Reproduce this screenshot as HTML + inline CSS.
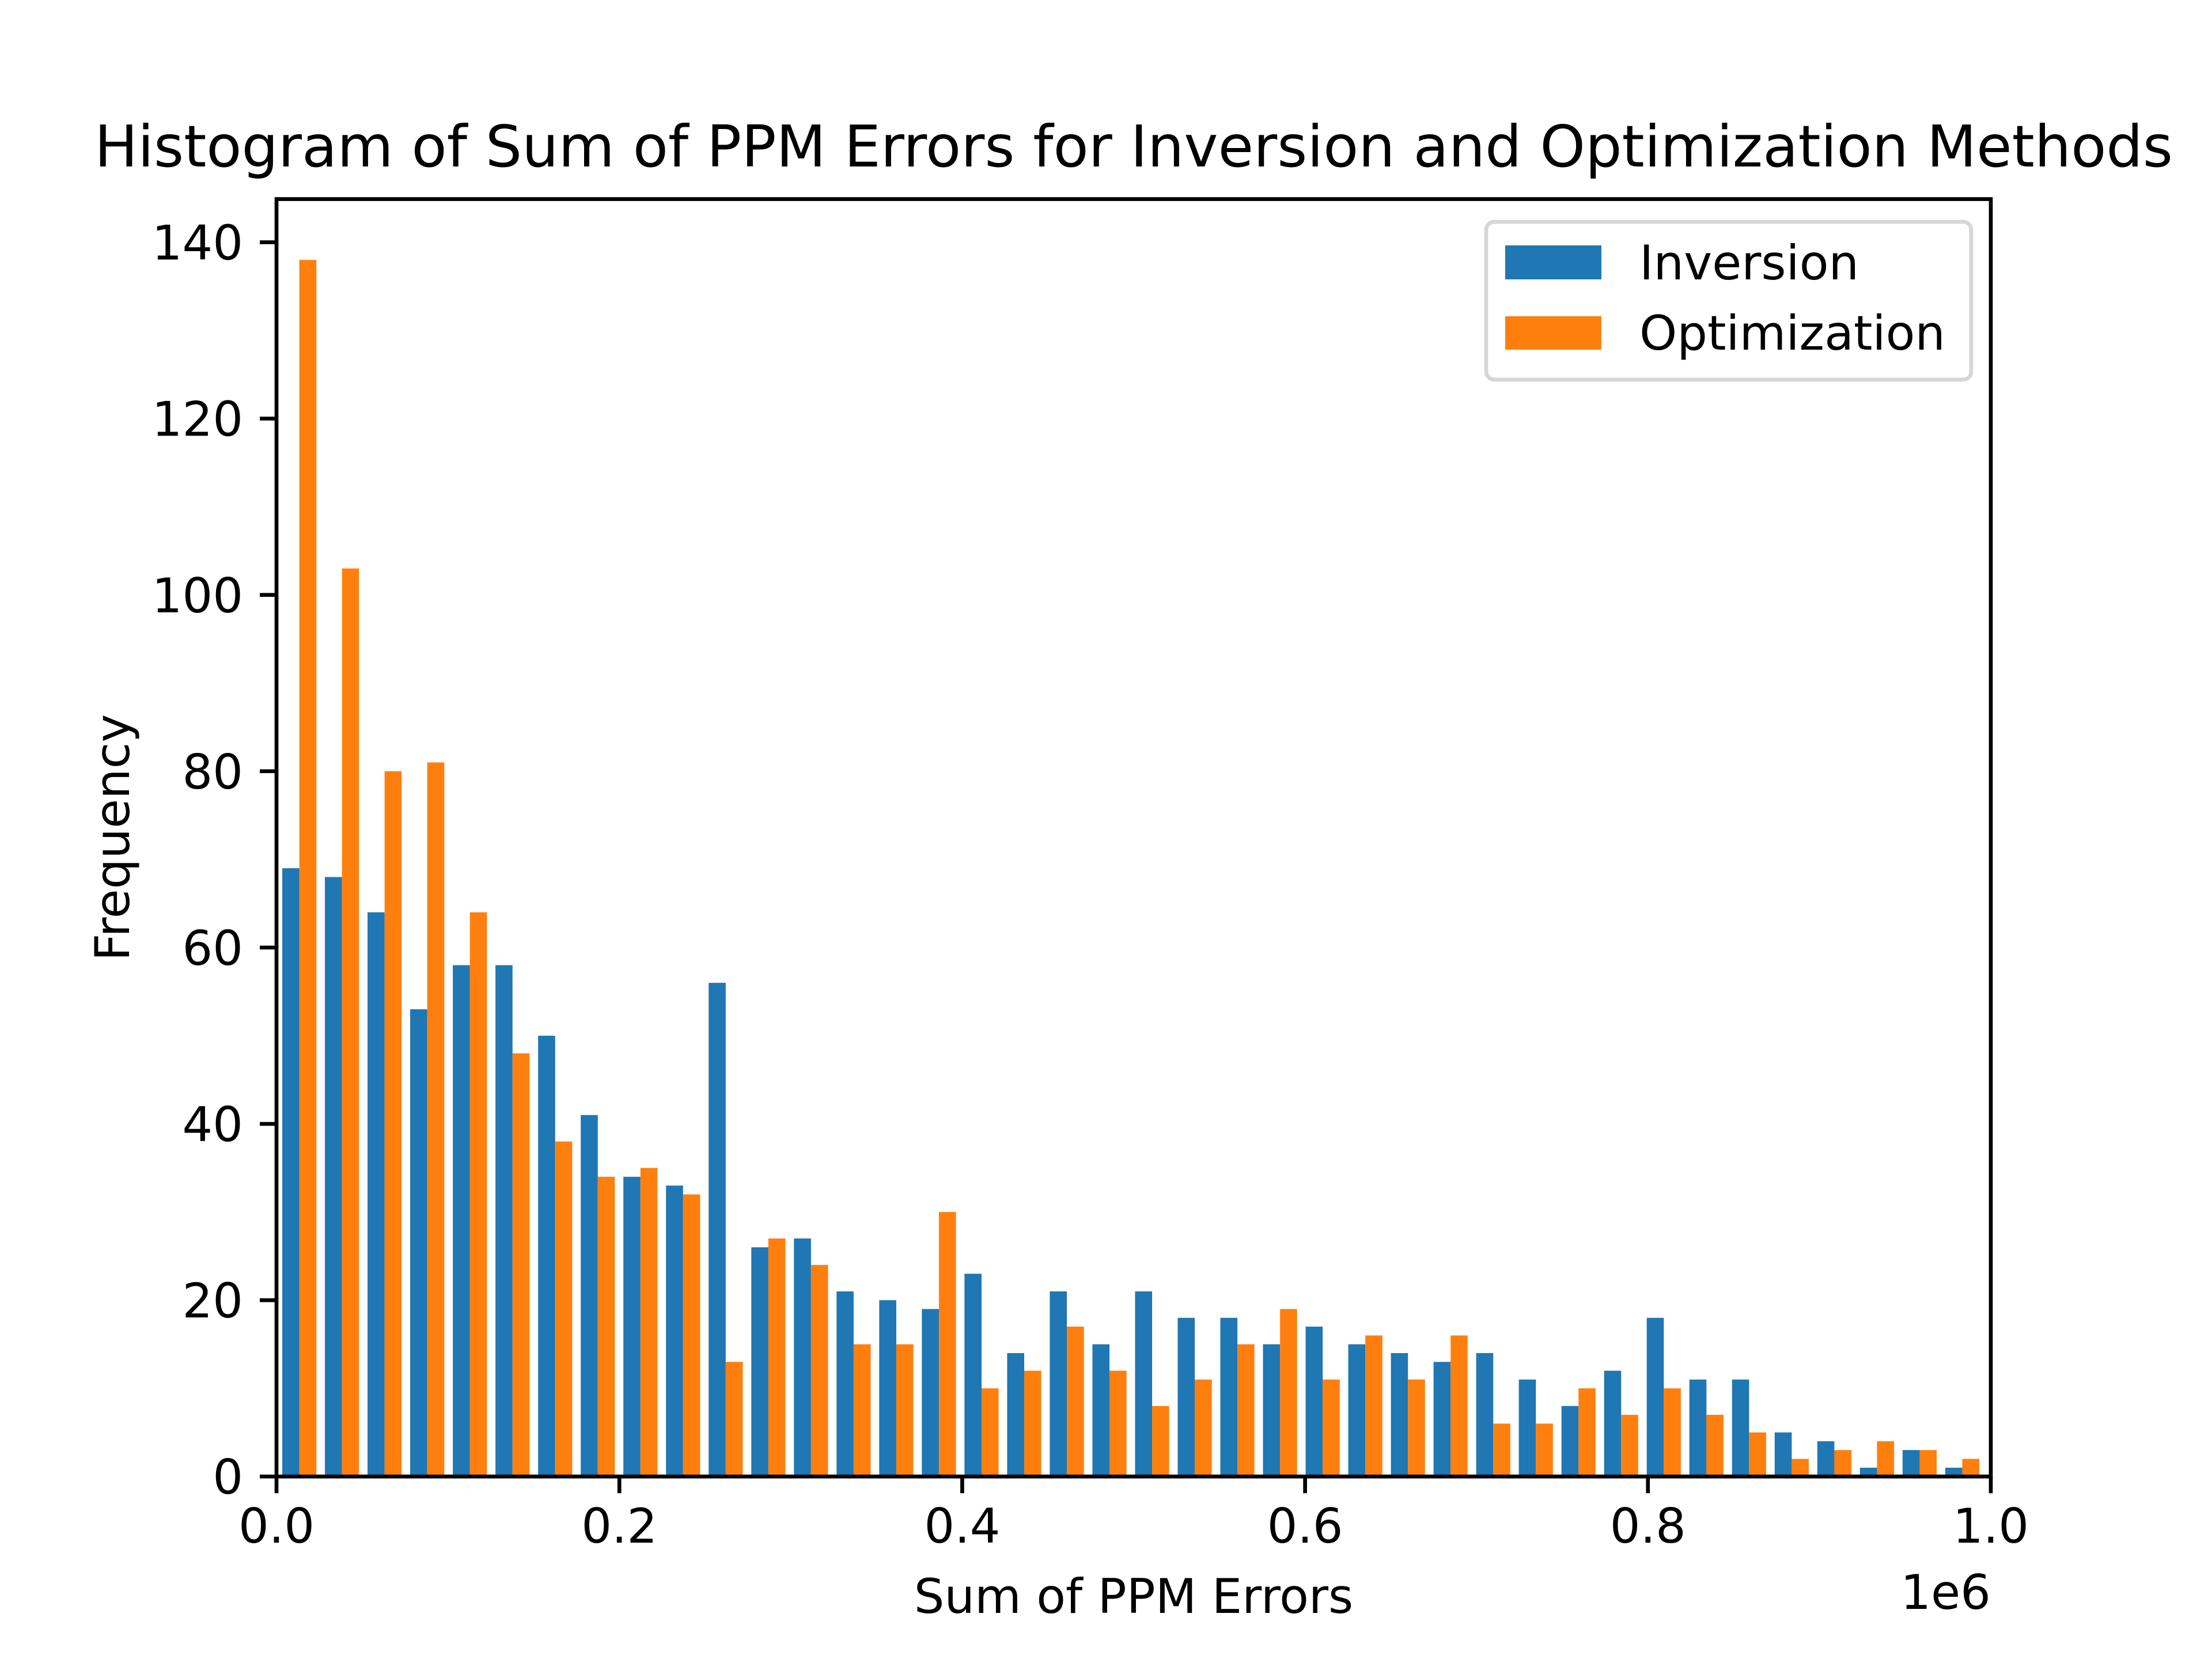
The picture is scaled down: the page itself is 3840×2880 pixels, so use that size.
<!DOCTYPE html>
<html><head><meta charset="utf-8"><style>
html,body{margin:0;padding:0;background:#fff}
svg{display:block}
text{font-family:"DejaVu Sans","Liberation Sans",sans-serif;fill:#000}
</style></head><body>
<svg id="chart" width="3840" height="2880" viewBox="0 0 3840 2880" xmlns="http://www.w3.org/2000/svg">
<rect width="3840" height="2880" fill="#fff"/>
<text x="1968" y="289" font-size="100" text-anchor="middle">Histogram of Sum of PPM Errors for Inversion and Optimization Methods</text>
<g id="bars"></g>
<g id="axes"></g>
<rect x="480" y="345.6" width="2976" height="2217.6" fill="none" stroke="#000" stroke-width="6.67"/>
<text x="1968" y="2800" font-size="83" text-anchor="middle">Sum of PPM Errors</text>
<text x="3456" y="2793" font-size="83" text-anchor="end">1e6</text>
<text x="0" y="0" font-size="83" text-anchor="middle" transform="translate(224,1454) rotate(-90)">Frequency</text>
<g>
<rect x="2580" y="385" width="842" height="274" rx="14" fill="#fff" fill-opacity="0.8" stroke="#d6d6d6" stroke-width="6.67"/>
<rect x="2613" y="426" width="167" height="59" fill="#1f77b4"/>
<text x="2846" y="485" font-size="83">Inversion</text>
<rect x="2613" y="549" width="167" height="58" fill="#ff7f0e"/>
<text x="2846" y="607" font-size="83">Optimization</text>
</g>
</svg>
<script>
const inversion=[69,68,64,53,58,58,50,41,34,33,56,26,27,21,20,19,23,14,21,15,21,18,18,15,17,15,14,13,14,11,8,12,18,11,11,5,4,1,3,1];
const optimization=[138,103,80,81,64,48,38,34,35,32,13,27,24,15,15,30,10,12,17,12,8,11,15,19,11,16,11,16,6,6,10,7,10,7,5,2,3,4,3,2];
const binRange=[0.00087,0.9958];
const xTicks=[0,0.2,0.4,0.6,0.8,1.0];
const xTickLabels=["0.0","0.2","0.4","0.6","0.8","1.0"];
const yTicks=[0,20,40,60,80,100,120,140];
const NS="http://www.w3.org/2000/svg";
const X0=480,X1=3456,Y0=2563.2,Y1=345.6,YMAX=144.9;
const xs=v=>X0+(v-0)/(1-0)*(X1-X0);
const ys=v=>Y0-v/YMAX*(Y0-Y1);
const bars=document.getElementById('bars');
const axes=document.getElementById('axes');
const nb=inversion.length, bw=(binRange[1]-binRange[0])/nb;
function bar(v,left,color,name){
 const r=document.createElementNS(NS,'rect');
 r.setAttribute('x',xs(left));
 r.setAttribute('width',xs(left+0.4*bw)-xs(left));
 r.setAttribute('y',ys(v));
 r.setAttribute('height',ys(0)-ys(v));
 r.setAttribute('fill',color);
 
 
 bars.appendChild(r);
}
for(let i=0;i<nb;i++){
 const s=binRange[0]+i*bw;
 bar(inversion[i],s+0.1*bw,'#1f77b4','bar-inversion-'+i);
 bar(optimization[i],s+0.5*bw,'#ff7f0e','bar-optimization-'+i);
}
xTicks.forEach((t,i)=>{
 const l=document.createElementNS(NS,'line');
 l.setAttribute('x1',xs(t));l.setAttribute('x2',xs(t));
 l.setAttribute('y1',Y0);l.setAttribute('y2',Y0+29);
 l.setAttribute('stroke','#000');l.setAttribute('stroke-width','6.67');
 
 
 axes.appendChild(l);
 const tx=document.createElementNS(NS,'text');
 tx.setAttribute('x',xs(t));tx.setAttribute('y',2678);
 tx.setAttribute('font-size','83');tx.setAttribute('text-anchor','middle');
 tx.textContent=xTickLabels[i];
 
 
 axes.appendChild(tx);
});
yTicks.forEach(t=>{
 const l=document.createElementNS(NS,'line');
 l.setAttribute('x1',X0-29);l.setAttribute('x2',X0);
 l.setAttribute('y1',ys(t));l.setAttribute('y2',ys(t));
 l.setAttribute('stroke','#000');l.setAttribute('stroke-width','6.67');
 
 
 axes.appendChild(l);
 const tx=document.createElementNS(NS,'text');
 tx.setAttribute('x',422);tx.setAttribute('y',ys(t)+30);
 tx.setAttribute('font-size','83');tx.setAttribute('text-anchor','end');
 tx.textContent=String(t);
 
 
 axes.appendChild(tx);
});
</script>
</body></html>
